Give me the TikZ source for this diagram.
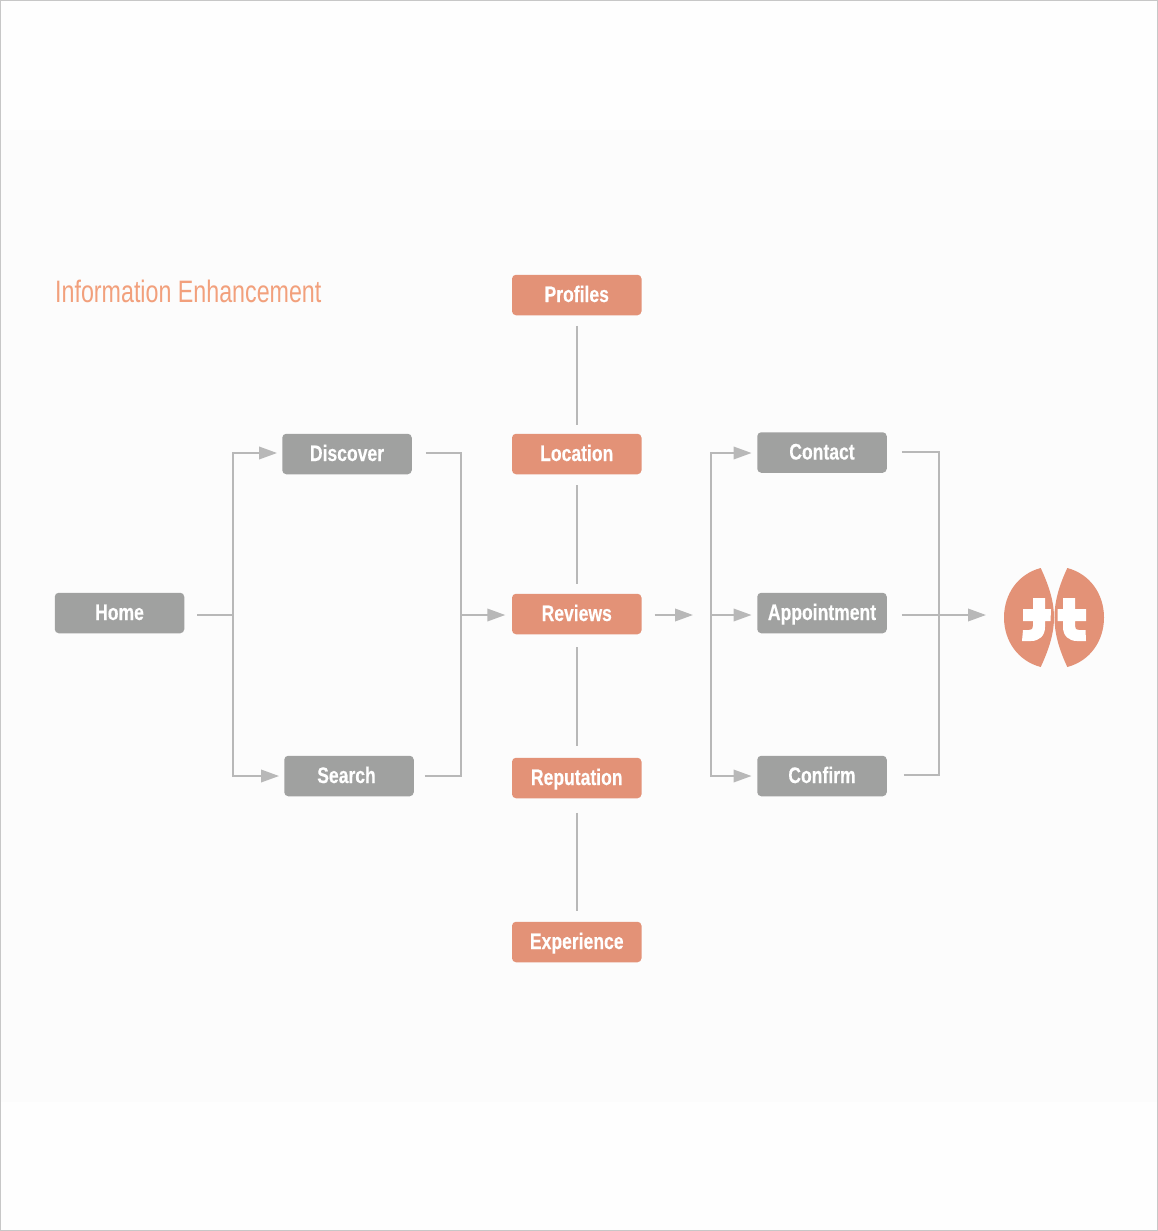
\documentclass[tikz,border=0pt]{standalone}
\usepackage{fontspec}
\usetikzlibrary{arrows.meta}
\newfontfamily\boxfont[FakeStretch=0.78,FakeBold=0.3]{Liberation Sans}
\newfontfamily\titlefont[FakeStretch=0.75]{Liberation Sans}
\definecolor{boxgray}{HTML}{A0A1A0}
\definecolor{boxsalmon}{HTML}{E39277}
\definecolor{linegray}{HTML}{B8B8B8}
\definecolor{titleorange}{HTML}{F2A07C}
\tikzset{
    box/.style={rounded corners=4pt, minimum width=129.5pt, minimum height=40.5pt, inner sep=0pt,
        text height=18pt, text depth=4pt,
        text=white, font=\boxfont\fontsize{22.5}{26}\selectfont\bfseries},
    graybox/.style={box, fill=boxgray},
    salmonbox/.style={box, fill=boxsalmon},
    link/.style={draw=linegray, line width=2pt},
    flow/.style={link, -{Triangle[length=18pt, width=12.5pt, fill=linegray]}}
}
\begin{document}
\begin{tikzpicture}[x=1pt, y=-1pt]
        \useasboundingbox (0,0) rectangle (1158,1231);

        % Sfondo
        \fill[white!99.5!black] (0,0) rectangle (1158,1231);
        \fill[white!98.7!black] (1,130) rectangle (1157,1102);
        \draw[black!22, line width=1.5pt] (0.5,0.5) rectangle (1157.5,1230.5);

        % Titolo
        \node[text=titleorange, font=\titlefont\fontsize{31}{36}\selectfont, anchor=west, inner sep=0pt] (title) at (55,291) {Information Enhancement};

        % Colonna sinistra
        \node[graybox] (home) at (119.5,613) {Home};
        \node[graybox] (discover) at (347,454) {Discover};
        \node[graybox] (search) at (349,776) {Search\kern5pt};

        % Colonna centrale
        \node[salmonbox] (profiles) at (576.75,295) {Profiles};
        \node[salmonbox] (location) at (576.75,454) {Location};
        \node[salmonbox] (reviews) at (576.75,614) {Reviews};
        \node[salmonbox] (reputation) at (576.75,778) {Reputation};
        \node[salmonbox] (experience) at (576.75,942) {Experience};

        % Colonna destra
        \node[graybox] (contact) at (822,452.5) {Contact};
        \node[graybox] (appointment) at (822,613) {Appointment};
        \node[graybox] (confirm) at (822,776) {Confirm};

        % Snodi
        \coordinate (homehub) at (233,615);
        \coordinate (searchhub) at (461,615);
        \coordinate (reviewshub) at (711,615);
        \coordinate (confirmhub) at (939,615);
        \coordinate (logotip) at (986,615);

        % Home verso Discover / Search
        \draw[link, shorten <=13pt] ([yshift=-2pt]home.east) -- (homehub);
        \draw[flow, shorten >=5pt] (homehub) |- ([yshift=1pt]discover.west);
        \draw[flow, shorten >=5pt] (homehub) |- (search.west);

        % Discover / Search verso Reviews
        \draw[link, shorten <=14pt] ([yshift=1pt]discover.east) -| (searchhub);
        \draw[link, shorten <=11pt] (search.east) -| (searchhub);
        \draw[flow, shorten >=6.5pt] (searchhub) -- ([yshift=-1pt]reviews.west);

        % Colonna centrale
        \draw[link, shorten <=10.5pt, shorten >=9pt] (profiles) -- (location);
        \draw[link, shorten <=11pt, shorten >=10pt] (location) -- (reviews);
        \draw[link, shorten <=13pt, shorten >=12pt] (reviews) -- (reputation);
        \draw[link, shorten <=14.5pt, shorten >=11pt] (reputation) -- (experience);

        % Reviews verso Contact / Appointment / Confirm
        \draw[flow, shorten <=13pt, shorten >=18pt] ([yshift=-1pt]reviews.east) -- (reviewshub);
        \draw[flow, shorten >=5.5pt] (reviewshub) |- ([yshift=-0.5pt]contact.west);
        \draw[flow, shorten >=5.5pt] (reviewshub) -- ([yshift=-2pt]appointment.west);
        \draw[flow, shorten >=5.5pt] (reviewshub) |- (confirm.west);

        % Uscite verso il logo
        \draw[link, shorten <=15pt] ([yshift=0.5pt]contact.east) -| (confirmhub);
        \draw[link, shorten <=17pt] ([yshift=1pt]confirm.east) -| (confirmhub);
        \draw[flow, shorten <=15pt] ([yshift=-2pt]appointment.east) -- (logotip);

        % Logo
        \fill[boxsalmon] (1040.7,568) .. controls (1018,574) and (1004,594) .. (1004,617.5)
            .. controls (1004,641) and (1018,661) .. (1040.7,667)
            .. controls (1050,647) and (1054,632) .. (1054,617.5)
            .. controls (1054,603) and (1050,588) .. (1040.7,568) -- cycle;
        \fill[boxsalmon] (1067.3,568) .. controls (1090,574) and (1104,594) .. (1104,617.5)
            .. controls (1104,641) and (1090,661) .. (1067.3,667)
            .. controls (1058,647) and (1054.5,632) .. (1054.5,617.5)
            .. controls (1054.5,603) and (1058,588) .. (1067.3,568) -- cycle;
        \fill[white] (1033,598) -- (1045,598) -- (1045,609) -- (1051,609) -- (1050.5,621) -- (1045,621) -- (1045,627)
            .. controls (1045,636) and (1039,641) .. (1031,641) -- (1022,641) -- (1023,630) -- (1029,630)
            .. controls (1032,630) and (1033,629) .. (1033,626) -- (1033,621) -- (1023,621) -- (1023,609) -- (1033,609) -- cycle;
        \fill[white] (1063,598) -- (1075,598) -- (1075,609) -- (1086,609) -- (1086,621) -- (1075,621) -- (1075,626)
            .. controls (1075,629) and (1076,630) .. (1079,630) -- (1085.5,630) -- (1086,641) -- (1077,641)
            .. controls (1069,641) and (1063,636) .. (1063,627) -- (1063,621) -- (1057.5,621) -- (1057.5,609) -- (1063,609) -- cycle;

\end{tikzpicture}
\end{document}
